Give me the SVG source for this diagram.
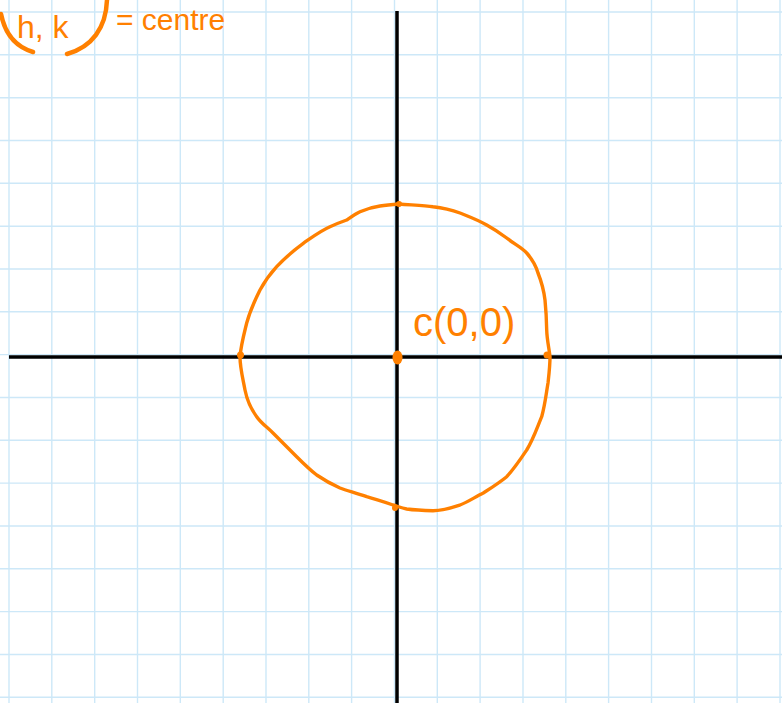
<svg xmlns="http://www.w3.org/2000/svg" width="782" height="703" viewBox="0 0 782 703">
  <style>
    .grid { stroke: #cde8f8; stroke-width: 1.4; fill: none; }
    .axis { stroke: #000; stroke-width: 3.5; fill: none; stroke-linecap: butt; }
    .ink { stroke: #ff8000; stroke-width: 3.4; fill: none; stroke-linecap: round; stroke-linejoin: round; }
    .ink-thick { stroke: #ff8000; stroke-width: 4.5; fill: none; stroke-linecap: round; stroke-linejoin: round; }
    .dot { fill: #ff8000; }
    .hand { fill: #ff8000; font-family: "Liberation Sans", "DejaVu Sans", sans-serif; }
  </style>
  <rect width="782" height="703" fill="#ffffff"/>
  <g id="grid">
    <path class="grid" d="M9,0V703 M51.8,0V703 M94.7,0V703 M137.5,0V703 M180.3,0V703 M223.2,0V703 M266,0V703 M308.8,0V703 M351.6,0V703 M394.5,0V703 M437.3,0V703 M480.1,0V703 M523,0V703 M565.8,0V703 M608.6,0V703 M651.5,0V703 M694.3,0V703 M737.1,0V703 M780,0V703"/>
    <path class="grid" d="M0,12H782 M0,54.8H782 M0,97.7H782 M0,140.5H782 M0,183.3H782 M0,226.2H782 M0,269H782 M0,311.8H782 M0,354.6H782 M0,397.5H782 M0,440.3H782 M0,483.1H782 M0,526H782 M0,568.8H782 M0,611.6H782 M0,654.5H782 M0,697.3H782"/>
  </g>
  <g id="axes">
    <line class="axis" x1="397" y1="11" x2="397" y2="703"/>
    <line class="axis" x1="9" y1="357" x2="782" y2="357"/>
  </g>
  <g id="circle">
    <path class="ink" d="M399,204 C412,205 425,205.5 433,206.7 C445,208 452,210 460,213 C470,217 478,220 486.7,225 C494,229 500,233 506.7,238 C514,244 521,247 526.7,253 C532,259 536,266 538,273 C542,283 544,292 545,300 C546,310 546.5,320 546.7,330 C547,340 549,348 550,356.7 C550,366 549,374 548,383 C546,395 545,405 541.7,416.7 C537,428 533,440 526.7,450 C520,460 514,469 506.7,476.7 C499,483 491,488 483.3,493 C475,497 468,502 460,505 C451,508 443,510.7 433,510.7 C423,510.5 414,510 406.7,509 C401,508 397,506 393,505 C384,502 375,499 366.7,496.7 C357,493 348,491 340,488 C331,484 324,480 316.7,475 C309,469 303,463 296.7,456.7 C289,449 281,441 273,433 C267,427 261,423 256.7,416.7 C251,409 247,400 245,390 C243,379 240,368 240,356.7 C241,345 244,334 246.7,323 C250,311 255,300 260,290 C265,281 270,274 276.7,266.7 C285,258 294,250 303.3,243.3 C311,238 320,231 330,226.7 C336,224 341,222 346.7,220 C351,217 355,214 360,211.7 C366,209 373,207 380,206 C387,205 393,204.5 399,204 Z"/>
    <circle class="dot" cx="399" cy="204" r="3"/>
    <circle class="dot" cx="547" cy="355" r="3.5"/>
    <circle class="dot" cx="240.5" cy="355" r="3.5"/>
    <circle class="dot" cx="395" cy="508" r="3"/>
    <ellipse class="dot" cx="397.5" cy="357.5" rx="5" ry="7"/>
  </g>
  <g id="center-label">
    <text class="hand" x="413" y="336" font-size="40">c(0,0)</text>
  </g>
  <g id="hk-note">
    <path class="ink-thick" d="M1,14 C5,34 16,47 33,52"/>
    <path class="ink-thick" d="M67,54 C92,47 106,28 107,0"/>
    <text class="hand" x="17" y="38" font-size="32">h, k</text>
    <text class="hand" x="116" y="30" font-size="30">= centre</text>
  </g>
</svg>
